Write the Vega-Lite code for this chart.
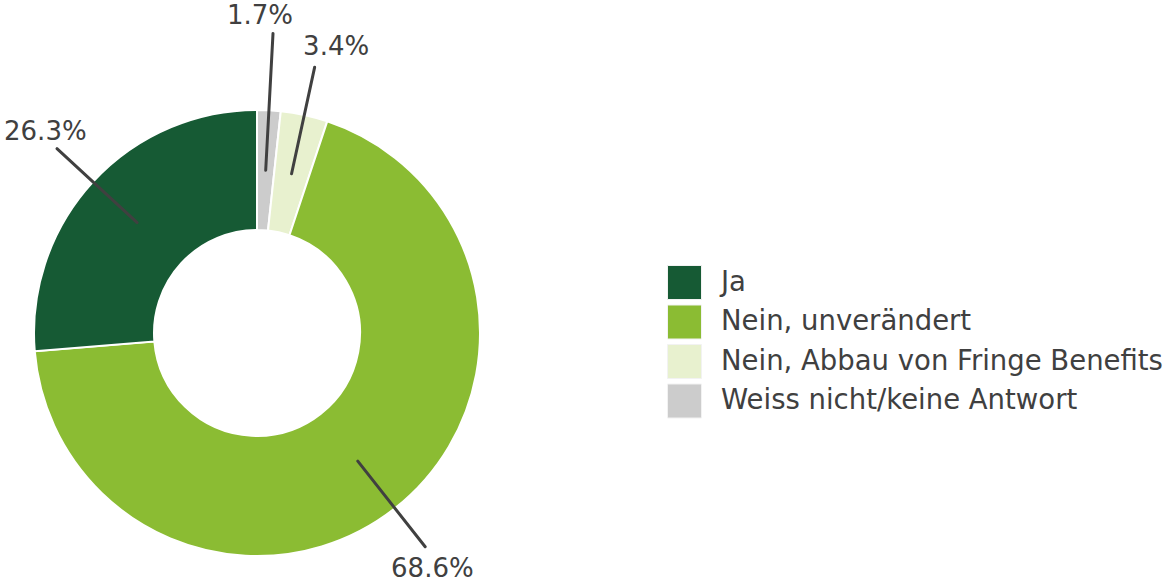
{
  "$schema": "https://vega.github.io/schema/vega-lite/v6.json",
  "autosize": "none",
  "width": 514,
  "height": 500,
  "padding": {"left": 0, "top": 83, "right": 649, "bottom": 2},
  "background": "white",
  "config": {"view": {"stroke": null}, "font": "DejaVu Sans"},
  "data": {
    "values": [
      {"category": "Weiss nicht/keine Antwort", "share": 0.017, "rank": 1},
      {"category": "Nein, Abbau von Fringe Benefits", "share": 0.034, "rank": 2},
      {"category": "Nein, unverändert", "share": 0.686, "rank": 3},
      {"category": "Ja", "share": 0.263, "rank": 4}
    ]
  },
  "resolve": {"scale": {"theta": "independent"}},
  "encoding": {
    "theta": {"field": "share", "type": "quantitative", "stack": true, "scale": {"domain": [0, 1]}},
    "order": {"field": "rank", "type": "quantitative"},
    "detail": {"field": "category", "type": "nominal"}
  },
  "layer": [
    {
      "mark": {"type": "arc", "outerRadius": 223, "innerRadius": 103, "stroke": "white", "strokeWidth": 2},
      "encoding": {
        "color": {
          "field": "category",
          "type": "nominal",
          "scale": {
            "domain": ["Ja", "Nein, unverändert", "Nein, Abbau von Fringe Benefits", "Weiss nicht/keine Antwort"],
            "range": ["#165a34", "#8bbc33", "#e8f1cf", "#cccccc"]
          },
          "legend": {
            "title": null,
            "orient": "none",
            "legendX": 667,
            "legendY": 182,
            "padding": 0,
            "symbolType": "square",
            "symbolSize": 1156,
            "symbolStrokeColor": "#f2f2f2",
            "symbolStrokeWidth": 1,
            "rowPadding": 0.5,
            "labelOffset": 19,
            "labelFont": "DejaVu Sans",
            "labelFontSize": 27.5,
            "labelColor": "#404040",
            "labelLimit": 600
          }
        }
      }
    },
    {
      "mark": {"type": "arc", "innerRadius": 163, "outerRadius": 272, "padAngle": 3.1416, "fill": "transparent", "stroke": "#404040", "strokeWidth": 3, "strokeCap": "round", "strokeJoin": "round"},
      "encoding": {
        "strokeOpacity": {"condition": {"test": "datum.rank === 2 || datum.rank === 4", "value": 1}, "value": 0}
      }
    },
    {
      "mark": {"type": "arc", "innerRadius": 163, "outerRadius": 300, "padAngle": 3.1416, "fill": "transparent", "stroke": "#404040", "strokeWidth": 3, "strokeCap": "round", "strokeJoin": "round"},
      "encoding": {
        "strokeOpacity": {"condition": {"test": "datum.rank === 1", "value": 1}, "value": 0}
      }
    },
    {
      "mark": {"type": "arc", "innerRadius": 163, "outerRadius": 272, "padAngle": 3.1416, "fill": "transparent", "stroke": "#404040", "strokeWidth": 3, "strokeCap": "round", "strokeJoin": "round"},
      "encoding": {
        "theta": {"field": "share", "type": "quantitative", "stack": true, "scale": {"domain": [0, 1], "range": [0.899, 4.899]}},
        "strokeOpacity": {"condition": {"test": "datum.rank === 3", "value": 1}, "value": 0}
      }
    },
    {
      "mark": {"type": "text", "radius": 317, "dx": -14, "font": "DejaVu Sans", "fontSize": 26, "color": "#404040", "align": "center", "baseline": "middle"},
      "encoding": {
        "text": {"condition": {"test": "datum.rank === 1", "field": "share", "type": "quantitative", "format": ".1%"}, "value": ""}
      }
    },
    {
      "mark": {"type": "text", "radius": 293, "dx": 17, "font": "DejaVu Sans", "fontSize": 26, "color": "#404040", "align": "center", "baseline": "middle"},
      "encoding": {
        "text": {"condition": {"test": "datum.rank === 2", "field": "share", "type": "quantitative", "format": ".1%"}, "value": ""}
      }
    },
    {
      "mark": {"type": "text", "radius": 300, "dx": -10, "font": "DejaVu Sans", "fontSize": 26, "color": "#404040", "align": "center", "baseline": "middle"},
      "encoding": {
        "text": {"condition": {"test": "datum.rank === 3", "field": "share", "type": "quantitative", "format": ".1%"}, "value": ""}
      }
    },
    {
      "mark": {"type": "text", "radius": 296, "dx": 6, "font": "DejaVu Sans", "fontSize": 26, "color": "#404040", "align": "center", "baseline": "middle"},
      "encoding": {
        "text": {"condition": {"test": "datum.rank === 4", "field": "share", "type": "quantitative", "format": ".1%"}, "value": ""}
      }
    }
  ]
}
